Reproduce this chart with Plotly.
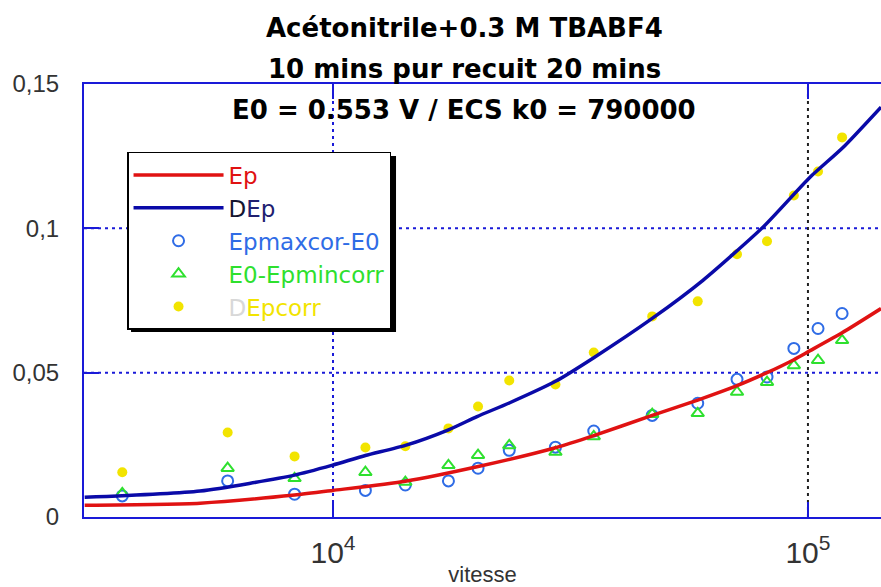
import plotly.graph_objects as go

# scan rates of the measured points (vitesse)
vitesse = [3600, 6000, 8300, 11700, 14200, 17500, 20200, 23500, 29400,
           35400, 47000, 58600, 70900, 82000, 93400, 105000, 118000]
ep_max_cor = [0.0073, 0.0125, 0.0079, 0.0092, 0.0111, 0.0125, 0.0169, 0.0231, 0.0242,
              0.0298, 0.0352, 0.0394, 0.0477, 0.0485, 0.0584, 0.0653, 0.0705]
e0_ep_min_corr = [0.0082, 0.0169, 0.0134, 0.0155, 0.0121, 0.0179, 0.0214, 0.0248, 0.0225,
                  0.0279, 0.0356, 0.0359, 0.0433, 0.0467, 0.0525, 0.0543, 0.0612]
dep_corr = [0.0155, 0.0293, 0.0210, 0.0241, 0.0245, 0.0307, 0.0383, 0.0473, 0.0459,
            0.0570, 0.0695, 0.0747, 0.0910, 0.0955, 0.1114, 0.1197, 0.1315]

# simulated curves
ep_x = [3000, 5250, 8300, 10000, 14200, 20100, 29400, 35400, 47000,
        58600, 70900, 82000, 93400, 100000, 118000, 142500]
ep_y = [0.0041, 0.0048, 0.0076, 0.0092, 0.0124, 0.0174, 0.0240, 0.0282, 0.0352,
        0.0405, 0.0455, 0.0500, 0.0545, 0.0572, 0.0638, 0.0722]
dep_x = [3000, 5250, 8300, 10000, 11700, 14200, 17500, 20100, 23500, 29400, 35400,
         47000, 60100, 80400, 101000, 118500, 142500]
dep_y = [0.0068, 0.0090, 0.0145, 0.0180, 0.0213, 0.0248, 0.0302, 0.0348, 0.0395, 0.0470, 0.0552,
         0.0688, 0.0820, 0.1004, 0.1177, 0.1280, 0.1420]

title_lines = ["Acétonitrile+0.3 M TBABF4",
               "10 mins pur recuit 20 mins",
               "E0 = 0.553 V / ECS k0 = 790000"]

AXIS_BLUE = '#1a1ad8'
RED = '#e01212'
NAVY = '#0a0aa8'
CIRCLE_BLUE = '#2f6ce6'
GREEN = '#2ee02e'
YELLOW = '#f2e400'

fig = go.Figure()

fig.add_trace(go.Scatter(
    x=vitesse, y=ep_max_cor, mode='markers', legendrank=3,
    name=f"<span style='color:{CIRCLE_BLUE}'>Epmaxcor-E0</span>",
    marker=dict(symbol='circle-open', size=11, color=CIRCLE_BLUE, line=dict(width=2))
))
fig.add_trace(go.Scatter(
    x=vitesse, y=e0_ep_min_corr, mode='markers', legendrank=4,
    name=f"<span style='color:{GREEN}'>E0-Epmincorr</span>",
    marker=dict(symbol='triangle-up-open', size=11, color=GREEN, line=dict(width=2))
))
fig.add_trace(go.Scatter(
    x=vitesse, y=dep_corr, mode='markers', legendrank=5,
    name=f"<span style='color:#d8d8d8'>D</span><span style='color:{YELLOW}'>Epcorr</span>",
    marker=dict(symbol='circle', size=10, color=YELLOW)
))
fig.add_trace(go.Scatter(
    x=ep_x, y=ep_y, mode='lines', legendrank=1,
    name=f"<span style='color:{RED}'>Ep</span>",
    line=dict(color=RED, width=3.5, shape='spline', smoothing=0.6)
))
fig.add_trace(go.Scatter(
    x=dep_x, y=dep_y, mode='lines', legendrank=2,
    name="<span style='color:#151530'>D</span><span style='color:#202070'>Ep</span>",
    line=dict(color=NAVY, width=3.5, shape='spline', smoothing=0.6)
))

# grid lines (dotted, 10^5 one is dark)
grid = dict(width=2, dash='3px,4px')
shapes = [
    dict(type='line', xref='paper', x0=0, x1=1, yref='y', y0=0.05, y1=0.05,
         line=dict(color=AXIS_BLUE, **grid), layer='below'),
    dict(type='line', xref='paper', x0=0, x1=1, yref='y', y0=0.1, y1=0.1,
         line=dict(color=AXIS_BLUE, **grid), layer='below'),
    dict(type='line', xref='x', x0=1e4, x1=1e4, yref='paper', y0=0, y1=1,
         line=dict(color=AXIS_BLUE, **grid), layer='below'),
    dict(type='line', xref='x', x0=1e5, x1=1e5, yref='paper', y0=0, y1=1,
         line=dict(color='#202020', **grid), layer='below'),
    # legend drop shadow
    dict(type='rect', xref='paper', yref='paper', x0=0.0590, x1=0.3915, y0=0.4273, y1=0.8337,
         fillcolor='black', line=dict(width=0), layer='above'),
]

annotations = []
for txt, py in zip(title_lines, [28, 69, 110]):
    annotations.append(dict(
        text=f"<b>{txt}</b>", xref='paper', yref='paper',
        x=0.477, y=(517 - py) / 433, xanchor='center', yanchor='middle',
        showarrow=False, font=dict(family='DejaVu Sans', size=26, color='black')
    ))

fig.update_layout(
    width=881, height=587,
    margin=dict(l=84, r=0, t=84, b=70),
    paper_bgcolor='white', plot_bgcolor='white',
    separators=', ',
    font=dict(family='Liberation Sans', size=24, color='#333333'),
    shapes=shapes,
    annotations=annotations,
    legend=dict(
        x=0.054, y=0.843, xanchor='left', yanchor='top',
        bgcolor='white', bordercolor='black', borderwidth=1.5,
        font=dict(family='DejaVu Sans', size=23),
        itemwidth=90,
    ),
    xaxis=dict(
        type='log', range=[3.4757, 5.1538], automargin=False,
        dtick=1, exponentformat='power', showexponent='all',
        showgrid=False, zeroline=False,
        showline=True, linecolor=AXIS_BLUE, linewidth=2, mirror='ticks',
        ticks='inside', ticklen=15, tickwidth=2, tickcolor=AXIS_BLUE,
        ticklabelstandoff=9,
        title=dict(text='vitesse', standoff=14,
                   font=dict(family='Liberation Sans', size=22, color='#333333')),
    ),
    yaxis=dict(
        range=[0, 0.15], dtick=0.05, automargin=False,
        showgrid=False, zeroline=False,
        showline=True, linecolor=AXIS_BLUE, linewidth=2,
        ticks='inside', ticklen=15, tickwidth=2, tickcolor=AXIS_BLUE,
        ticklabelstandoff=18,
    ),
)

# page body margin would otherwise push the 881x587 figure out of the window
fig.write_html("out.html", config={'displayModeBar': False},
               post_script="document.body.style.margin='0px';")
